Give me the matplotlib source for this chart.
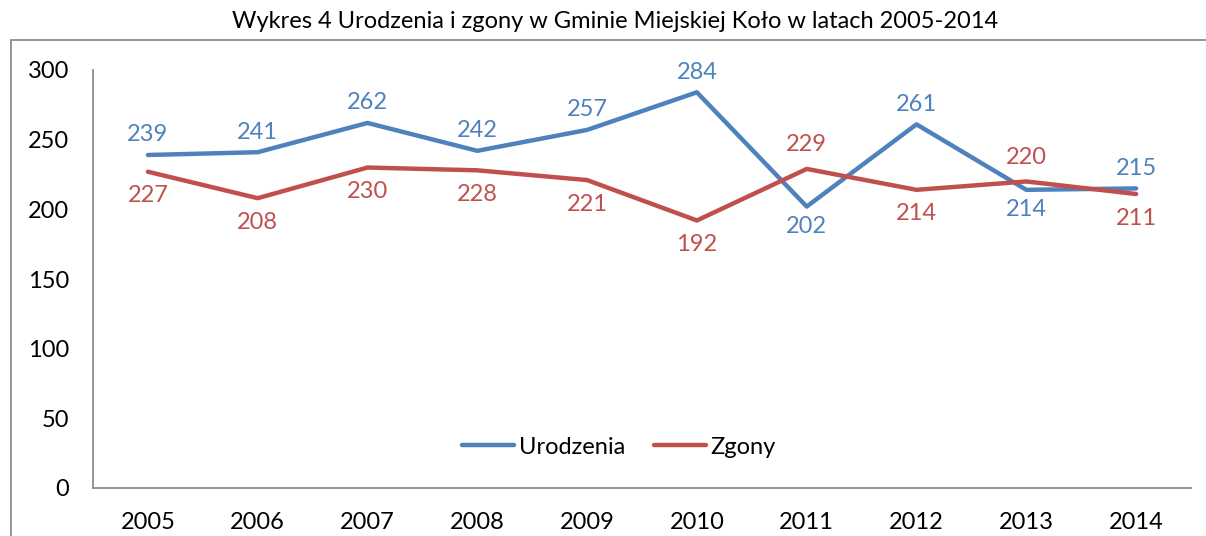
import matplotlib
matplotlib.use("Agg")
import matplotlib.pyplot as plt
from matplotlib.patches import Rectangle

years = ["2005", "2006", "2007", "2008", "2009", "2010", "2011", "2012", "2013", "2014"]
urodzenia = [239, 241, 262, 242, 257, 284, 202, 261, 214, 215]
zgony = [227, 208, 230, 228, 221, 192, 229, 214, 220, 211]
# label placement: +1 above, -1 below
urod_pos = [1, 1, 1, 1, 1, 1, -1, 1, -1, 1]
zgon_pos = [-1, -1, -1, -1, -1, -1, 1, -1, 1, -1]
yticks = [0, 50, 100, 150, 200, 250, 300]

plt.rcParams['font.family'] = ['Lato', 'DejaVu Sans']
BLUE = "#4F81BD"
RED = "#C0504D"
FS = 17

fig = plt.figure(figsize=(12.06, 5.36), dpi=100)
fig.patches.append(Rectangle((11/1206, -0.2), 1.5, 1.2 - 40/536, transform=fig.transFigure,
                             fill=False, edgecolor="#8c8c8c", linewidth=1.3))
ax = fig.add_axes([93/1206, 1 - 488/536, (1191 - 93)/1206, (488 - 70)/536])
x = list(range(len(years)))
ax.plot(x, urodzenia, color=BLUE, lw=3.2, label="Urodzenia", solid_capstyle="round")
ax.plot(x, zgony, color=RED, lw=3.2, label="Zgony", solid_capstyle="round")
for xi, v, p in zip(x, urodzenia, urod_pos):
    ax.annotate(str(v), (xi, v), xytext=(0, 20 * p), textcoords="offset pixels",
                ha="center", va="center", color=BLUE, fontsize=FS)
for xi, v, p in zip(x, zgony, zgon_pos):
    ax.annotate(str(v), (xi, v), xytext=(0, 24 * p), textcoords="offset pixels",
                ha="center", va="center", color=RED, fontsize=FS)

ax.set_xlim(-0.5, len(years) - 0.5)
ax.set_ylim(0, 300)
ax.set_xticks(x)
ax.set_xticklabels(years, fontsize=FS)
ax.set_yticks(yticks)
ax.set_yticklabels([str(t) for t in yticks], fontsize=FS)
ax.tick_params(axis='x', length=0, pad=17)
ax.tick_params(axis='y', length=0, pad=17)
for s in ["top", "right"]:
    ax.spines[s].set_visible(False)
for s in ["left", "bottom"]:
    ax.spines[s].set_color("#8c8c8c")
    ax.spines[s].set_linewidth(1.3)

ax.legend(loc="center", bbox_to_anchor=((619 - 93) / 1098, 1 - (447 - 70) / 418), ncol=2, frameon=False,
          fontsize=FS, handlelength=2.2, handletextpad=0.2, columnspacing=1.2)
fig.text(615/1206, 1 - 22/536, "Wykres 4 Urodzenia i zgony w Gminie Miejskiej Koło w latach 2005-2014",
         ha="center", va="center", fontsize=17)
fig.savefig("out.png", dpi=100)
